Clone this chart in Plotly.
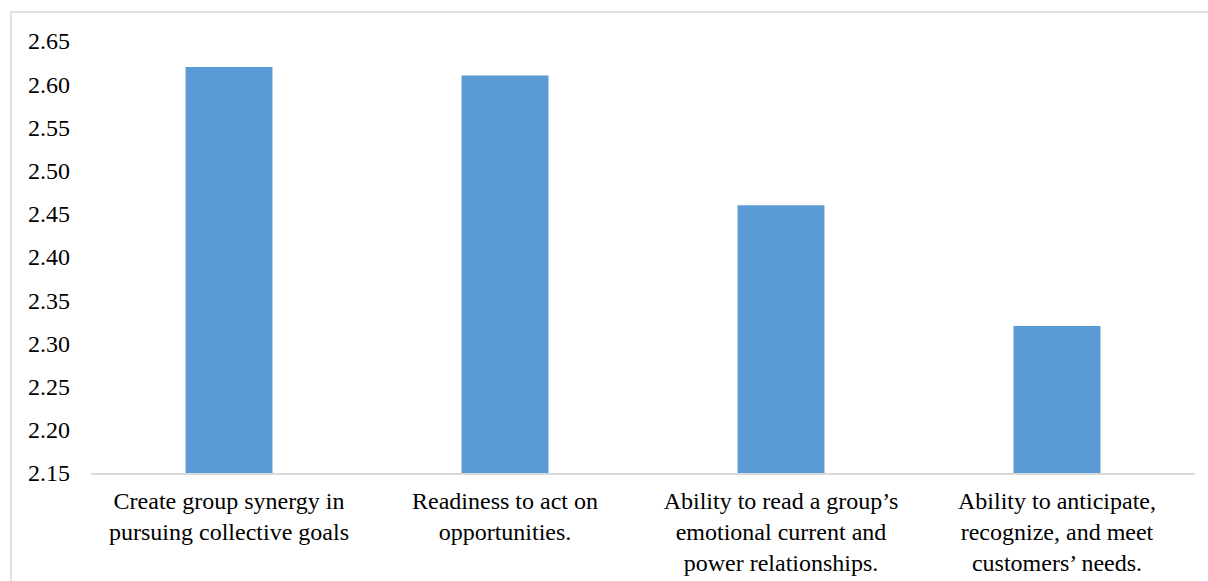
import plotly.graph_objects as go

categories = [
    "Create group synergy in<br>pursuing collective goals",
    "Readiness to act on<br>opportunities.",
    "Ability to read a group’s<br>emotional current and<br>power relationships.",
    "Ability to anticipate,<br>recognize, and meet<br>customers’ needs.",
]
values = [2.62, 2.61, 2.46, 2.32]
tick_vals = [2.15, 2.20, 2.25, 2.30, 2.35, 2.40, 2.45, 2.50, 2.55, 2.60, 2.65]
tick_text = [f"{v:.2f}" for v in tick_vals]

W, H = 1208, 581
ml, mr, mt, mb = 91, 13, 41, 108
pw, ph = W - ml - mr, H - mt - mb
FONT = "Liberation Serif"

fig = go.Figure(go.Bar(
    x=categories, y=values,
    marker=dict(color="#5b9bd5", line=dict(width=0)),
    width=0.315,
))

fig.update_layout(
    width=W, height=H,
    margin=dict(l=ml, r=mr, t=mt, b=mb, autoexpand=False),
    paper_bgcolor="white", plot_bgcolor="white",
    font=dict(family=FONT, size=24, color="black"),
    showlegend=False,
    xaxis=dict(showline=True, linecolor="#d9d9d9", linewidth=2, ticks="",
               ticklabelstandoff=5, automargin=False,
               tickfont=dict(family=FONT, size=24, color="black"), showgrid=False),
    yaxis=dict(range=[2.15, 2.65], tickvals=tick_vals, ticktext=tick_text,
               showgrid=False, zeroline=False, showline=False, ticks="",
               automargin=False,
               ticklabelstandoff=20, tickfont=dict(family=FONT, size=24, color="black")),
    shapes=[dict(type="rect", xref="paper", yref="paper",
                 x0=(11 - ml) / pw, x1=1.2, y0=-0.6, y1=1 + (mt - 12) / ph,
                 line=dict(color="#d9d9d9", width=1.5), fillcolor="rgba(0,0,0,0)")],
)

fig.write_html("out.html")
